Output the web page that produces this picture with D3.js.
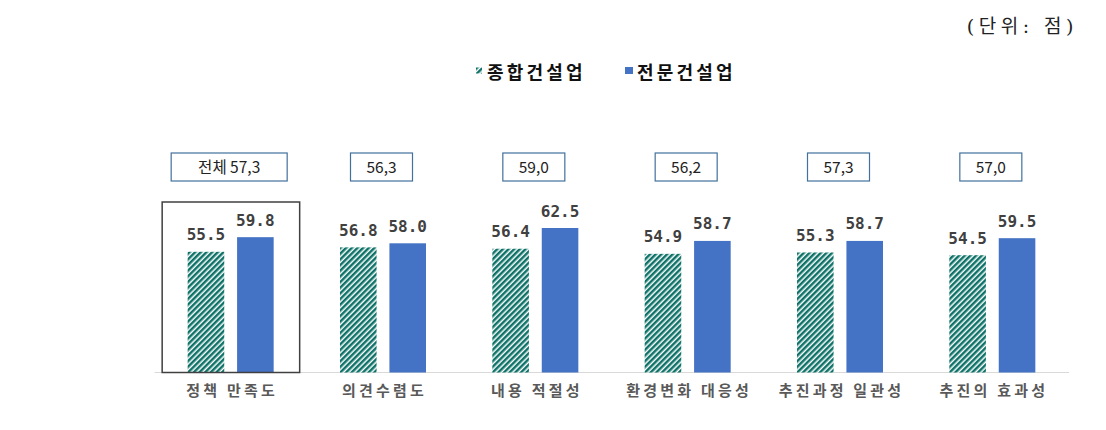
<!DOCTYPE html>
<html><head><meta charset="utf-8">
<script src="https://cdn.jsdelivr.net/npm/d3@7"></script>
<style>body{margin:0;background:#fff;} svg{display:block;}</style>
</head><body>
<svg id="chart" width="1106" height="430"></svg>
<script>
const categories = ["정책 만족도","의견수렴도","내용 적절성","환경변화 대응성","추진과정 일관성","추진의 효과성"];
const seriesNames = ["종합건설업","전문건설업"];
const general = [55.5, 56.8, 56.4, 54.9, 55.3, 54.5];
const specialty = [59.8, 58.0, 62.5, 58.7, 58.7, 59.5];
const totals = ["전체 57,3","56,3","59,0","56,2","57,3","57,0"];
const unitLabel = "(단위: 점)";

const svg = d3.select("#chart");
const defs = svg.append("defs");
const pat = defs.append("pattern").attr("id","hatch").attr("patternUnits","userSpaceOnUse")
  .attr("width",4).attr("height",4).attr("patternTransform","rotate(45)");
pat.append("rect").attr("width",4).attr("height",4).attr("fill","#fff");
pat.append("rect").attr("x",0).attr("width",2.5).attr("height",4).attr("fill","#0e7268");

const baseY = 372.5;
const x0 = d3.scaleBand().domain(categories).range([154.5, 1068.5]).paddingInner(0).paddingOuter(0);
const x1 = d3.scaleBand().domain(seriesNames).range([-43, 43]).paddingInner(0.26);
const y = d3.scaleLinear().domain([20, 70]).range([baseY, baseY - 50*3.4]);
const colors = {"종합건설업":"url(#hatch)","전문건설업":"#4472C4"};

svg.append("line").attr("x1",154.5).attr("x2",1069).attr("y1",baseY).attr("y2",baseY)
  .attr("stroke","#d9d9d9").attr("stroke-width",1.2);

const rows = categories.map((c,i)=>({c, vals:[{s:seriesNames[0],v:general[i]},{s:seriesNames[1],v:specialty[i]}], total: totals[i]}));

const g = svg.selectAll("g.grp").data(rows).join("g")
  .attr("transform", d=>`translate(${x0(d.c)+x0.bandwidth()/2},0)`);

g.selectAll("rect.bar").data(d=>d.vals).join("rect")
  .attr("x", d=>x1(d.s)).attr("width", x1.bandwidth())
  .attr("y", d=>y(d.v)).attr("height", d=>baseY - y(d.v))
  .attr("fill", d=>colors[d.s]);

g.selectAll("text.val").data(d=>d.vals).join("text")
  .attr("x", d=>x1(d.s)+x1.bandwidth()/2).attr("y", d=>y(d.v)-11.5)
  .attr("text-anchor","middle")
  .attr("font-family","'DejaVu Sans Mono', monospace").attr("font-weight","bold")
  .attr("font-size",16).attr("fill","#404040")
  .text(d=>d.v.toFixed(1));

g.append("text").attr("x",1.5).attr("y",396)
  .attr("text-anchor","middle")
  .attr("font-family","'Noto Sans CJK KR', sans-serif").attr("font-weight","bold")
  .attr("font-size",15).attr("letter-spacing",3.2).attr("fill","#595959")
  .text(d=>d.c);

g.each(function(d,i){
  const w = i===0 ? 116 : 62;
  const gg = d3.select(this);
  gg.append("rect").attr("x",-1.5-w/2).attr("y",153).attr("width",w).attr("height",28)
    .attr("fill","#fff").attr("stroke","#41719C").attr("stroke-width",1.2);
  gg.append("text").attr("x",-1.5).attr("y",172.5).attr("text-anchor","middle")
    .attr("font-family","'Liberation Sans Narrow','Noto Sans CJK KR', sans-serif")
    .attr("font-size",15.5).attr("fill","#222")
    .text(d.total);
});

const firstC = x0(categories[0]) + x0.bandwidth()/2;
svg.append("rect").attr("x", firstC-68.5).attr("y",202).attr("width",137.5).attr("height",baseY-202)
  .attr("fill","none").attr("stroke","#404040").attr("stroke-width",1.5);

const leg = svg.append("g");
leg.append("rect").attr("x",476).attr("y",67.5).attr("width",6).attr("height",6).attr("fill","url(#hatch)");
leg.append("text").attr("x",487).attr("y",79).attr("font-family","'Noto Sans CJK KR', sans-serif")
  .attr("font-weight","bold").attr("font-size",18).attr("letter-spacing",3.2).attr("fill","#111").text(seriesNames[0]);
leg.append("rect").attr("x",625).attr("y",67).attr("width",8).attr("height",7).attr("fill","#4472C4");
leg.append("text").attr("x",637).attr("y",79).attr("font-family","'Noto Sans CJK KR', sans-serif")
  .attr("font-weight","bold").attr("font-size",18).attr("letter-spacing",3.2).attr("fill","#111").text(seriesNames[1]);

svg.append("text").attr("x",1078).attr("y",33).attr("text-anchor","end")
  .attr("font-family","'DejaVu Serif','Noto Sans CJK KR', serif").attr("font-size",19)
  .attr("letter-spacing",4.5).attr("fill","#222").text(unitLabel);
</script>
</body></html>
